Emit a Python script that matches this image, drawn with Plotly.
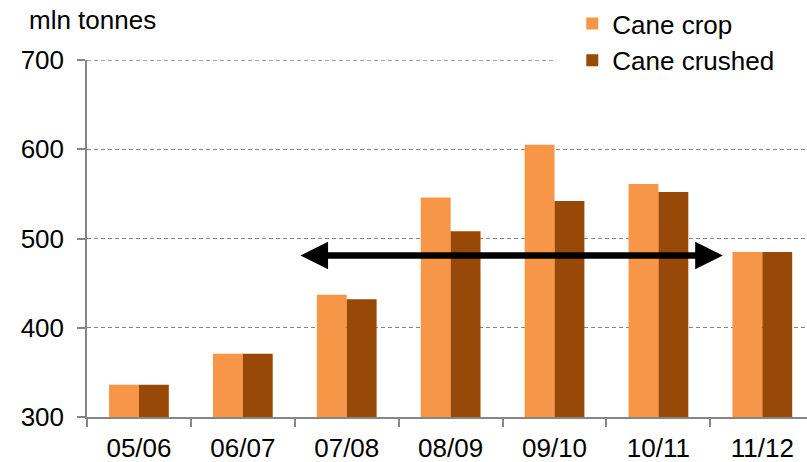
import plotly.graph_objects as go

categories = ["05/06", "06/07", "07/08", "08/09", "09/10", "10/11", "11/12"]
cane_crop = [336, 371, 437, 546, 605, 561, 485]
cane_crushed = [336, 371, 432, 508, 542, 552, 485]
y_ticks = [300, 400, 500, 600, 700]
arrow_y = 481
arrow_from = 1.54
arrow_to = 5.62

FONT = "Arial, Liberation Sans, sans-serif"
FS = 26
GRID = "#858585"
fig = go.Figure()
fig.add_trace(go.Bar(x=categories, y=cane_crop, name="Cane crop",
                     marker=dict(color="#F79646", line=dict(width=0)), legendgroup="a"))
fig.add_trace(go.Bar(x=categories, y=cane_crushed, name="Cane crushed",
                     marker=dict(color="#984807", line=dict(width=0)), legendgroup="b"))

fig.add_annotation(x=arrow_to, y=arrow_y, ax=arrow_from, ay=arrow_y,
                   xref="x", yref="y", axref="x", ayref="y", text="",
                   showarrow=True, arrowside="end+start", arrowhead=2, startarrowhead=2,
                   arrowsize=0.85, startarrowsize=0.85, arrowwidth=6.5, arrowcolor="black")

fig.add_annotation(x=-60/720, y=1 + 40/357, xref="paper", yref="paper", text="mln tonnes",
                   showarrow=False, xanchor="left", yanchor="middle",
                   font=dict(size=FS, color="black", family=FONT))

# top gridline (plotly hides grid lines at the axis end); stops at the legend box
fig.add_shape(type="line", xref="paper", yref="y", x0=0, x1=(554-87)/720,
              y0=y_ticks[-1], y1=y_ticks[-1], layer="below",
              line=dict(color=GRID, width=1.3, dash="4px,3px"))

fig.update_layout(
    width=807, height=462,
    margin=dict(l=87, r=0, t=60, b=45, autoexpand=False),
    paper_bgcolor="white", plot_bgcolor="white",
    barmode="group", bargap=0.425, bargroupgap=0,
    font=dict(family=FONT, size=FS, color="black"),
    showlegend=True,
    legend=dict(x=0.674, y=1.0, yref="container", xanchor="left", yanchor="top",
                bgcolor="white", borderwidth=0, traceorder="grouped",
                tracegroupgap=0, font=dict(size=FS, family=FONT)),
    xaxis=dict(range=[-0.5, 6.43], showline=True, linecolor="#868686", linewidth=1.5,
               ticks="outside", tickson="boundaries", ticklen=8, tickcolor="#868686",
               tickwidth=1.5, showgrid=False, tickfont=dict(size=FS), ticklabelstandoff=7,
               automargin=False),
    yaxis=dict(range=[300, 700], tickvals=y_ticks, showline=True, linecolor="#868686",
               linewidth=1.5, ticks="outside", ticklen=8, tickcolor="#868686", tickwidth=1.5,
               showgrid=True, gridcolor=GRID, griddash="4px,3px", gridwidth=1.3,
               zeroline=False, tickfont=dict(size=FS), ticklabelstandoff=8,
               automargin=False),
)
fig.write_html("out.html")
